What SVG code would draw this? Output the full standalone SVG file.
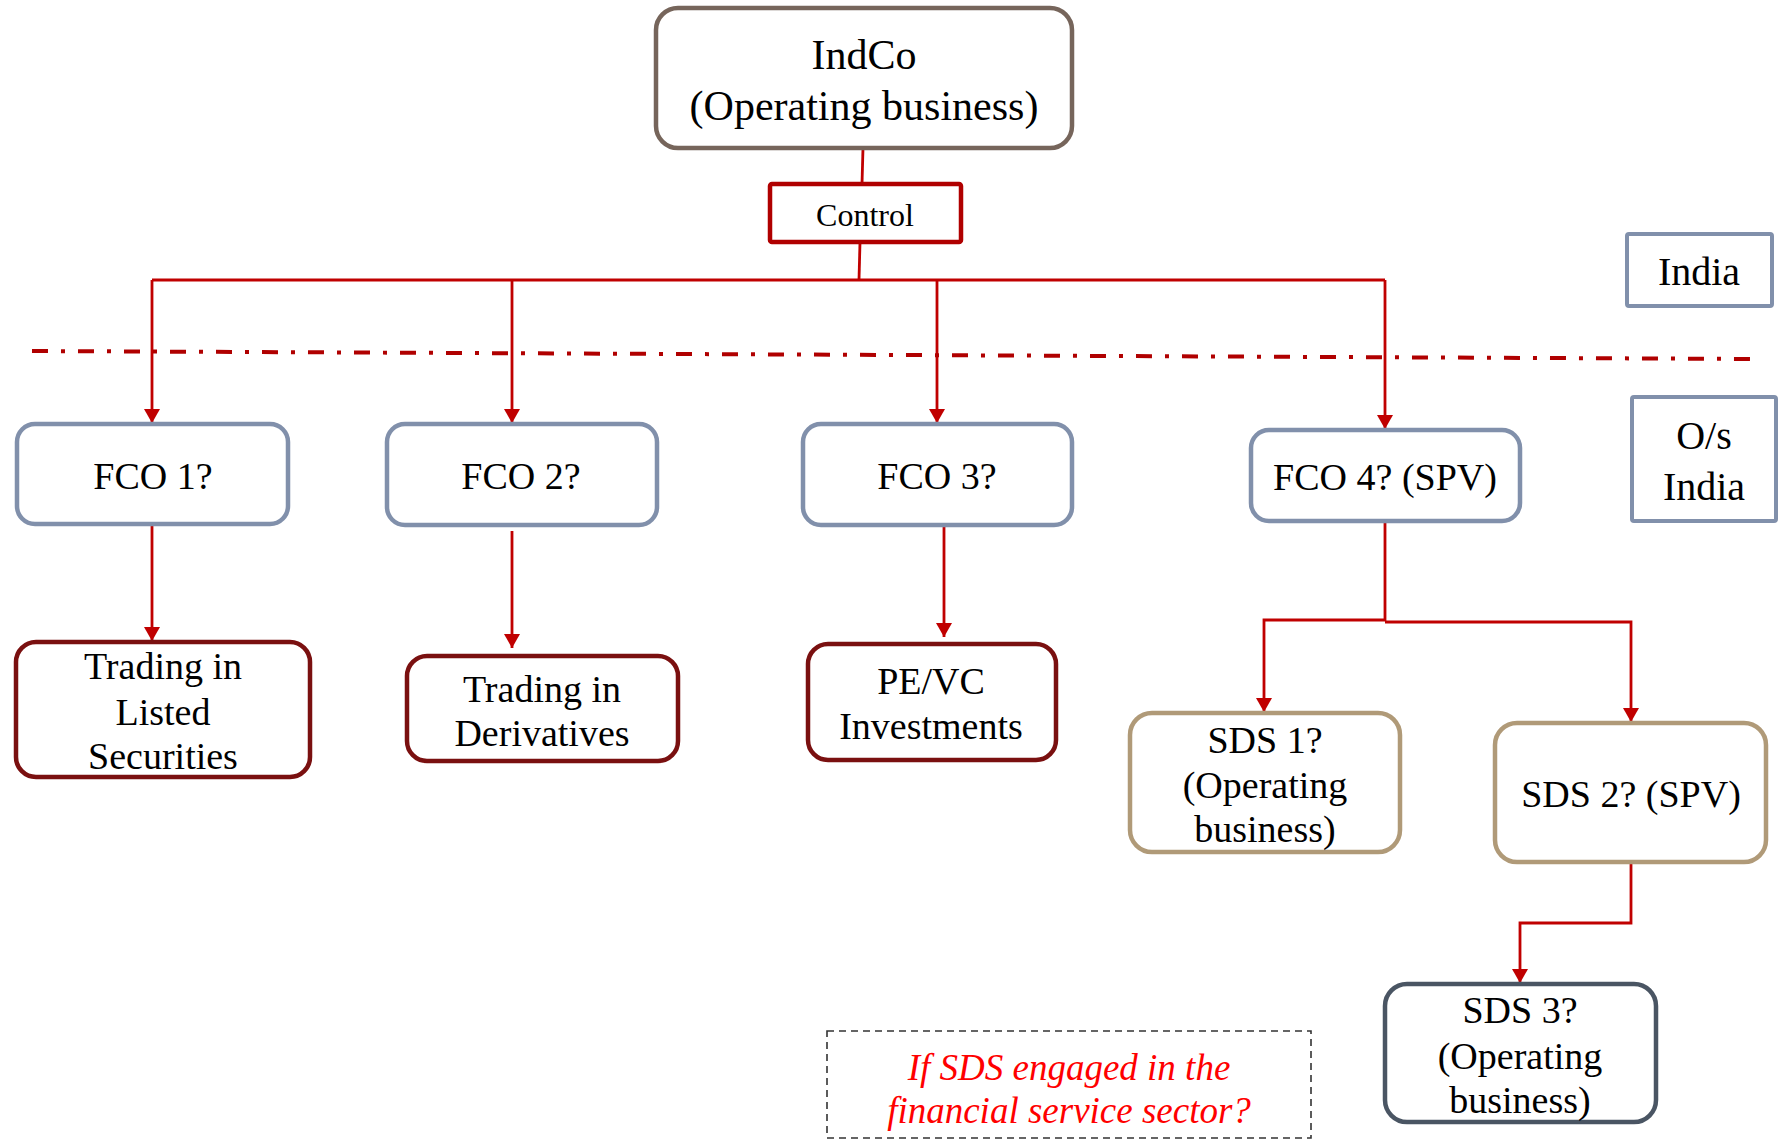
<svg xmlns="http://www.w3.org/2000/svg" width="1783" height="1140" viewBox="0 0 1783 1140">
<defs>
<style>
text{font-family:"Liberation Serif","Times New Roman",serif;fill:#000;text-anchor:middle;dominant-baseline:central}
.box{fill:#fff}
.fco{stroke:#8190ab;stroke-width:4.5}
.act{stroke:#7a1010;stroke-width:4.5}
.sds{stroke:#b09a78;stroke-width:4.5}
.loc{fill:#fff;stroke:#8190ab;stroke-width:4}
.conn{fill:none;stroke:#c00000;stroke-width:2.8}
.t38{font-size:38px}
</style>
<marker id="arr" viewBox="0 0 14 16" refX="14" refY="8" markerWidth="14" markerHeight="16" orient="auto" markerUnits="userSpaceOnUse">
<path d="M0,0 L14,8 L0,16 z" fill="#c00000"/>
</marker>
</defs>
<rect width="1783" height="1140" fill="#fff"/>

<g id="connectors">
<line class="conn" x1="863" y1="148" x2="862" y2="184"/>
<line class="conn" x1="860" y1="242" x2="859" y2="280"/>
<polyline class="conn" points="152,280 1385,280"/>
<line class="conn" x1="152" y1="280" x2="152" y2="423" marker-end="url(#arr)"/>
<line class="conn" x1="512" y1="280" x2="512" y2="423" marker-end="url(#arr)"/>
<line class="conn" x1="937" y1="280" x2="937" y2="423" marker-end="url(#arr)"/>
<line class="conn" x1="1385" y1="280" x2="1385" y2="429" marker-end="url(#arr)"/>
<line class="conn" x1="152" y1="524" x2="152" y2="641" marker-end="url(#arr)"/>
<line class="conn" x1="512" y1="531" x2="512" y2="648" marker-end="url(#arr)"/>
<line class="conn" x1="944" y1="521" x2="944" y2="637" marker-end="url(#arr)"/>
<polyline class="conn" points="1385,521 1385,620 1264,620 1264,712" marker-end="url(#arr)"/>
<polyline class="conn" points="1385,622 1631,622 1631,722" marker-end="url(#arr)"/>
<polyline class="conn" points="1631,862 1631,923 1520,923 1520,983" marker-end="url(#arr)"/>
</g>

<line id="border" x1="32" y1="351" x2="1760" y2="359" stroke="#b00000" stroke-width="4" stroke-dasharray="16 13 4 13"/>

<g id="indco">
<rect class="box" x="656" y="8" width="416" height="140" rx="22" stroke="#76655b" stroke-width="4.5"/>
<text x="864" y="55" font-size="42">IndCo</text>
<text x="864" y="106" font-size="42">(Operating business)</text>
</g>

<g id="control">
<rect class="box" x="770" y="184" width="191" height="58" rx="2" stroke="#b00000" stroke-width="4.5"/>
<text x="865" y="215" font-size="32">Control</text>
</g>

<g id="india">
<rect class="loc" x="1627" y="234" width="145" height="72" rx="2"/>
<text x="1699" y="271" font-size="40">India</text>
</g>

<g id="os-india">
<rect class="loc" x="1632" y="397" width="144" height="124" rx="2"/>
<text x="1704" y="435" font-size="40">O/s</text>
<text x="1704" y="486" font-size="40">India</text>
</g>

<g id="fco1">
<rect class="box fco" x="17" y="424" width="271" height="100" rx="18"/>
<text class="t38" x="153" y="476">FCO 1?</text>
</g>
<g id="fco2">
<rect class="box fco" x="387" y="424" width="270" height="101" rx="18"/>
<text class="t38" x="521" y="476">FCO 2?</text>
</g>
<g id="fco3">
<rect class="box fco" x="803" y="424" width="269" height="101" rx="18"/>
<text class="t38" x="937" y="476">FCO 3?</text>
</g>
<g id="fco4">
<rect class="box fco" x="1251" y="430" width="269" height="91" rx="18"/>
<text class="t38" x="1385" y="477">FCO 4? (SPV)</text>
</g>

<g id="listed">
<rect class="box act" x="16" y="642" width="294" height="135" rx="20"/>
<text class="t38" x="163" y="666">Trading in</text>
<text class="t38" x="163" y="712">Listed</text>
<text class="t38" x="163" y="756">Securities</text>
</g>
<g id="derivatives">
<rect class="box act" x="407" y="656" width="271" height="105" rx="20"/>
<text class="t38" x="542" y="689">Trading in</text>
<text class="t38" x="542" y="733">Derivatives</text>
</g>
<g id="pevc">
<rect class="box act" x="808" y="644" width="248" height="116" rx="20"/>
<text class="t38" x="931" y="681">PE/VC</text>
<text class="t38" x="931" y="726">Investments</text>
</g>

<g id="sds1">
<rect class="box sds" x="1130" y="713" width="270" height="139" rx="22"/>
<text class="t38" x="1265" y="740">SDS 1?</text>
<text class="t38" x="1265" y="785">(Operating</text>
<text class="t38" x="1265" y="829">business)</text>
</g>
<g id="sds2">
<rect class="box sds" x="1495" y="723" width="271" height="139" rx="22"/>
<text class="t38" x="1631" y="794">SDS 2? (SPV)</text>
</g>
<g id="sds3">
<rect class="box" x="1385" y="984" width="271" height="138" rx="22" stroke="#4a5563" stroke-width="4.5"/>
<text class="t38" x="1520" y="1010">SDS 3?</text>
<text class="t38" x="1520" y="1056">(Operating</text>
<text class="t38" x="1520" y="1100">business)</text>
</g>

<g id="note">
<rect x="827" y="1031" width="484" height="107" fill="none" stroke="#333" stroke-width="1.6" stroke-dasharray="7 5"/>
<text x="1069" y="1067" font-size="37" font-style="italic" style="fill:#ff0000">If SDS engaged in the</text>
<text x="1069" y="1110" font-size="37" font-style="italic" style="fill:#ff0000">financial service sector?</text>
</g>
</svg>
